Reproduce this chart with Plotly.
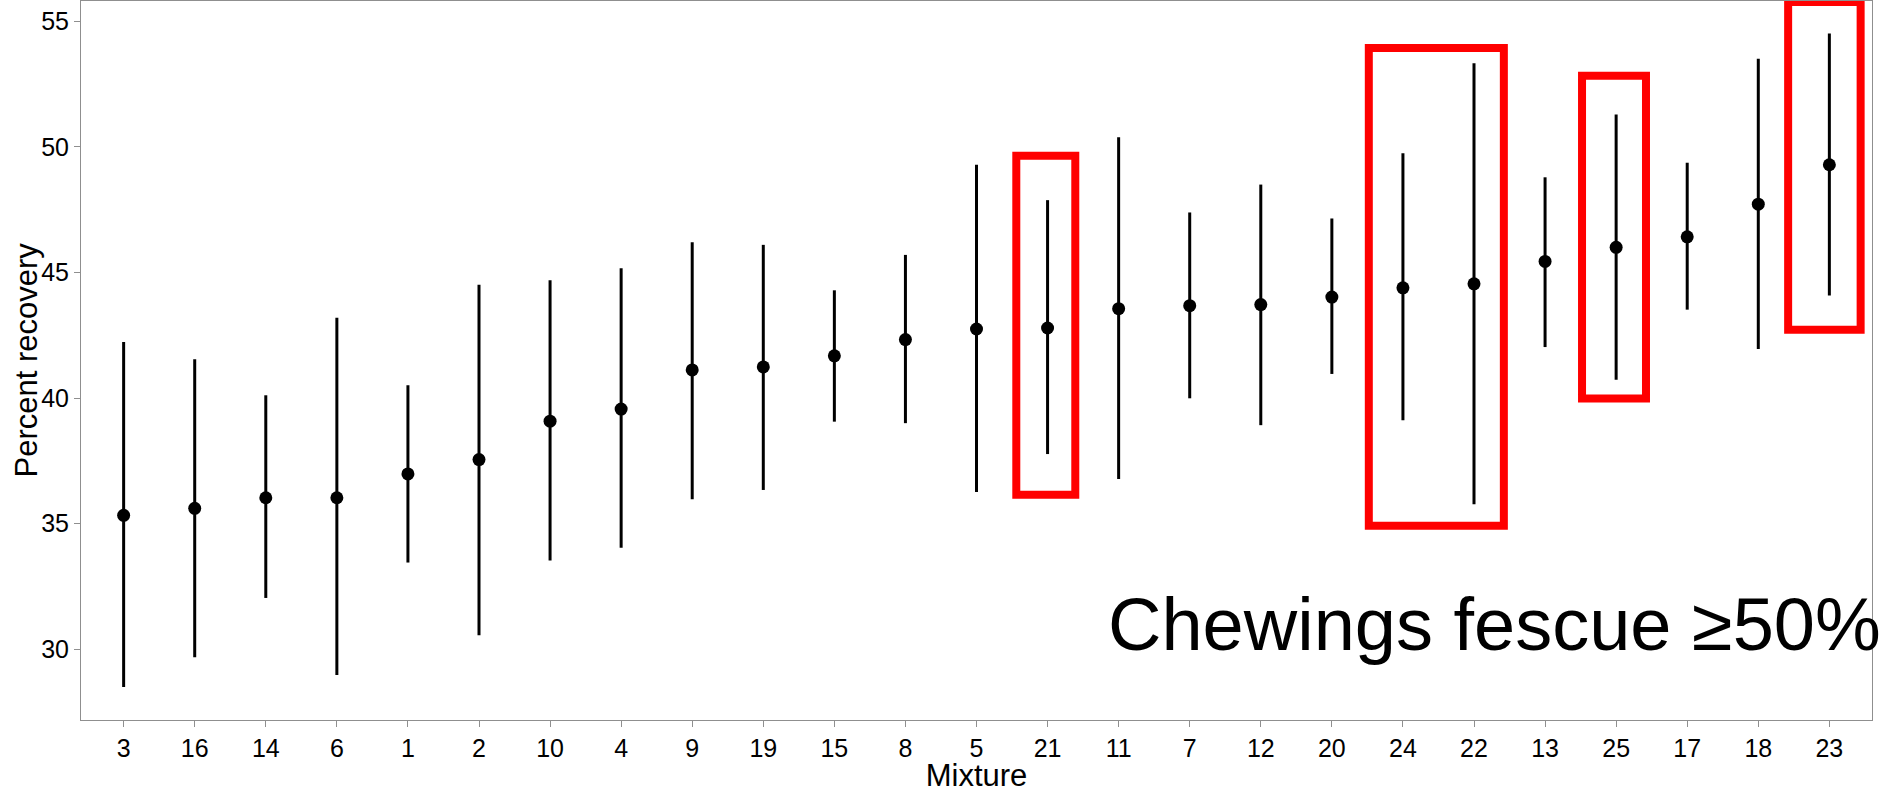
import plotly.graph_objects as go

# Mixtures ordered by mean percent recovery
mixtures = ["3", "16", "14", "6", "1", "2", "10", "4", "9", "19", "15", "8", "5",
            "21", "11", "7", "12", "20", "24", "22", "13", "25", "17", "18", "23"]
mean_recovery = [35.33, 35.61, 36.03, 36.03, 36.98, 37.55, 39.08, 39.56, 41.12, 41.24,
                 41.68, 42.33, 42.75, 42.79, 43.56, 43.68, 43.72, 44.02, 44.39, 44.55,
                 45.44, 46.00, 46.42, 47.72, 49.29]
lower_ci = [28.49, 29.68, 32.04, 28.97, 33.45, 30.55, 33.53, 34.04, 35.97, 36.34,
            39.06, 39.00, 36.26, 37.77, 36.78, 39.99, 38.92, 40.96, 39.12, 35.77,
            42.03, 40.73, 43.52, 41.95, 44.08]
upper_ci = [42.23, 41.54, 40.11, 43.20, 40.51, 44.51, 44.69, 45.17, 46.20, 46.10,
            44.29, 45.70, 49.29, 47.88, 50.38, 47.39, 48.50, 47.15, 49.75, 53.33,
            48.79, 51.29, 49.37, 53.51, 54.52]

y_ticks = [30, 35, 40, 45, 50, 55]

# Highlighted groups (Chewings fescue >= 50%): first/last mixture, padding (category units), y extent
box_first = ["21", "24", "25", "23"]
box_last = ["21", "22", "25", "23"]
box_pad_left = [0.44, 0.48, 0.48, 0.58]
box_pad_right = [0.39, 0.42, 0.42, 0.44]
box_ylow = [36.15, 34.91, 39.98, 42.72]
box_yhigh = [49.65, 53.94, 52.83, 55.77]

note_text = "Chewings fescue \u226550%"
x_title = "Mixture"
y_title = "Percent recovery"

err_plus = [u - m for u, m in zip(upper_ci, mean_recovery)]
err_minus = [m - l for m, l in zip(mean_recovery, lower_ci)]

font_family = "Liberation Sans, Arial, sans-serif"

fig = go.Figure()
fig.add_trace(go.Scatter(
    x=mixtures, y=mean_recovery, mode="markers",
    marker=dict(color="black", size=13, symbol="circle"),
    error_y=dict(type="data", symmetric=False, array=err_plus, arrayminus=err_minus,
                 color="black", thickness=3, width=0),
    showlegend=False,
))

shapes = []
for f, l, pl, pr, y0, y1 in zip(box_first, box_last, box_pad_left, box_pad_right, box_ylow, box_yhigh):
    i0 = mixtures.index(f)
    i1 = mixtures.index(l)
    shapes.append(dict(type="rect", xref="x", yref="y",
                       x0=i0 - pl, x1=i1 + pr, y0=y0, y1=y1,
                       line=dict(color="#FF0000", width=8), fillcolor="rgba(0,0,0,0)",
                       layer="above"))

fig.update_layout(
    width=1891, height=793,
    margin=dict(l=81, r=19, t=1, b=73),
    paper_bgcolor="white", plot_bgcolor="white",
    font=dict(family=font_family, color="black", size=25),
    shapes=shapes,
    annotations=[
        dict(text=note_text, x=19.29, y=31.0, xref="x", yref="y",
             xanchor="center", yanchor="middle", showarrow=False,
             font=dict(size=74, family=font_family, color="black")),
        dict(text=y_title, x=0, y=0.5, xref="paper", yref="paper", xshift=-55,
             xanchor="center", yanchor="middle", textangle=-90, showarrow=False,
             font=dict(size=31, family=font_family, color="black")),
    ],
)
fig.update_xaxes(
    type="category", categoryorder="array", categoryarray=mixtures,
    range=[-0.6, 24.6], showgrid=False, zeroline=False,
    showline=True, linecolor="#8f8f8f", linewidth=1, mirror=True,
    ticks="outside", ticklen=6, tickcolor="#8f8f8f", tickwidth=1,
    tickfont=dict(size=25), title=dict(text=x_title, font=dict(size=31), standoff=1),
    automargin=False,
)
fig.update_yaxes(
    range=[27.18, 55.81], tickvals=y_ticks, showgrid=False, zeroline=False,
    showline=True, linecolor="#8f8f8f", linewidth=1, mirror=True,
    ticks="outside", ticklen=6, tickcolor="#8f8f8f", tickwidth=1,
    tickfont=dict(size=25),
    automargin=False,
)
fig.write_html("out.html")
